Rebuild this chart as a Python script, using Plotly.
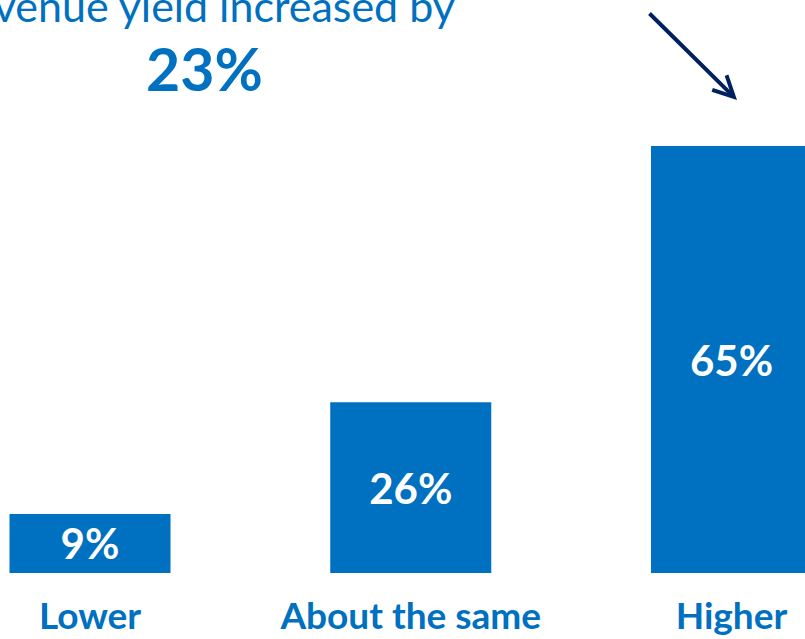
import plotly.graph_objects as go

categories = ["Lower", "About the same", "Higher"]
values = [9, 26, 65]
labels = ["9%", "26%", "65%"]
headline = "Revenue yield increased by"
headline_value = "23%"

BLUE = "#0070C0"
NAVY = "#002060"
W, H = 805, 639
PLOT_H = 573

fig = go.Figure(go.Bar(
    x=[0, 1, 2], y=values, text=labels, width=0.502,
    marker=dict(color=BLUE, line=dict(width=0)),
    textposition="inside", insidetextanchor="middle",
    textfont=dict(family="Lato", size=42, color="white", weight="bold"),
    cliponaxis=False,
))

def py(p):
    return (PLOT_H - p) / PLOT_H

fig.update_layout(
    width=W, height=H,
    margin=dict(l=0, r=0, t=0, b=H - PLOT_H, pad=0, autoexpand=False),
    paper_bgcolor="white", plot_bgcolor="white",
    showlegend=False,
    xaxis=dict(range=[-90 / 320.75, (805 - 90) / 320.75], tickvals=[0, 1, 2],
               ticktext=categories, showgrid=False, zeroline=False, showline=False,
               ticks="", ticklabelstandoff=18, automargin=False,
               tickfont=dict(family="Lato", size=37, color=BLUE, weight="bold"),
               fixedrange=True),
    yaxis=dict(range=[0, PLOT_H / (427 / 65)], visible=False, fixedrange=True,
               automargin=False),
    annotations=[
        dict(text=headline, xref="paper", yref="paper", x=457 / W, y=py(5),
             xanchor="right", yanchor="middle", showarrow=False,
             font=dict(family="Lato", size=43, color=BLUE)),
        dict(text=headline_value, xref="paper", yref="paper", x=205 / W, y=py(69),
             xanchor="center", yanchor="middle", showarrow=False,
             font=dict(family="Lato", size=59, color=BLUE, weight="bold")),
        dict(text="", xref="paper", yref="paper", x=737 / W, y=py(100),
             showarrow=True, ax=-89, ay=-88, axref="pixel", ayref="pixel",
             arrowhead=5, arrowsize=1.0, arrowwidth=4, arrowcolor=NAVY, standoff=0),
    ],
)

fig.write_html("out.html")
